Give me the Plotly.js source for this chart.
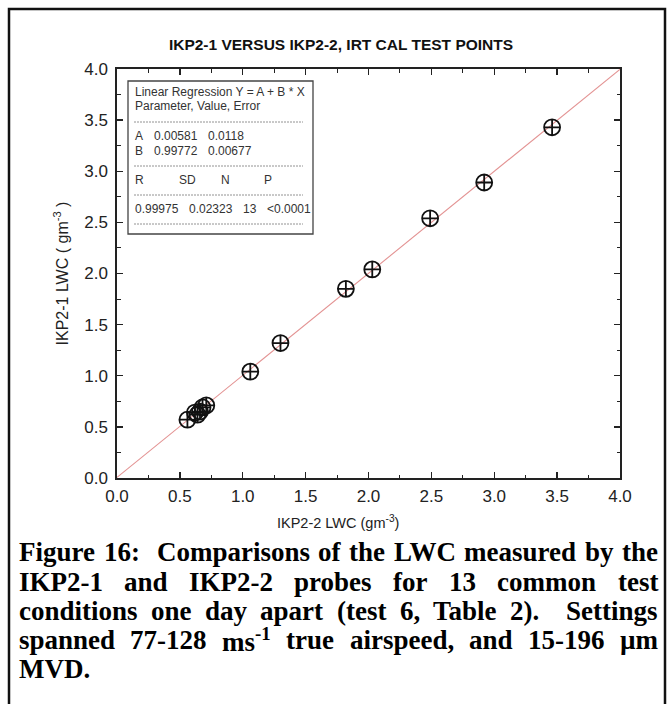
<!DOCTYPE html>
<html><head><meta charset="utf-8">
<script src="https://cdn.plot.ly/plotly-3.0.1.min.js"></script>
<style>html,body{margin:0;padding:0;background:#fff}</style>
</head><body><div id="chart" style="width:670px;height:704px"></div>
<script>
// ---- data ----
const ikp2_2 = [0.56, 0.62, 0.64, 0.66, 0.68, 0.71, 1.06, 1.30, 1.82, 2.03, 2.49, 2.92, 3.46];
const ikp2_1 = [0.57, 0.64, 0.62, 0.65, 0.69, 0.71, 1.04, 1.32, 1.85, 2.04, 2.54, 2.89, 3.43];
const fitA = 0.00581;
const fitB = 0.99772;
const fitX = [0, 4];
const tickVals = [0, 0.5, 1, 1.5, 2, 2.5, 3, 3.5, 4];
const tickText = ['0.0', '0.5', '1.0', '1.5', '2.0', '2.5', '3.0', '3.5', '4.0'];
const chartTitle = 'IKP2-1 VERSUS IKP2-2, IRT CAL TEST POINTS';
const xTitle = 'IKP2-2 LWC (gm<sup>-3</sup>)';
const yTitle = 'IKP2-1 LWC ( gm<sup>-3</sup> )';
const boxHeader = ['Linear Regression Y = A + B * X', 'Parameter, Value, Error'];
const paramRows = [['A', '0.00581', '0.0118'], ['B', '0.99772', '0.00677']];
const statHead = ['R', 'SD', 'N', 'P'];
const statVals = ['0.99975', '0.02323', '13', '<0.0001'];
const captionLines = [
  'Figure 16:  Comparisons of the LWC measured by the',
  'IKP2-1 and IKP2-2 probes for 13 common test',
  'conditions one day apart (test 6, Table 2).  Settings',
  'spanned 77-128 ms<sup>-1</sup> true airspeed, and 15-196 \u00b5m',
  'MVD.'
];

// ---- layout geometry (pixels) ----
const W = 670, H = 704;
const L = 117, R = 620, T = 69, B = 478;
const px = p => (p - L) / (R - L);
const py = p => (B - p) / (B - T);
const sans = 'Arial, "Liberation Sans", sans-serif';
const serif = '"Times New Roman", "Liberation Serif", serif';

const shapes = [];
const annotations = [];

// outer figure frame (left, top, right)
shapes.push({type: 'path', xref: 'paper', yref: 'paper',
  path: `M ${px(9)} ${py(712)} L ${px(9)} ${py(9)} L ${px(665)} ${py(9)} L ${px(665)} ${py(712)}`,
  line: {color: '#111', width: 2.5}});

// regression box
shapes.push({type: 'rect', xref: 'paper', yref: 'paper',
  x0: px(128), x1: px(313), y0: py(234), y1: py(81),
  line: {color: '#444', width: 1.3}, fillcolor: 'rgba(255,255,255,1)', layer: 'above'});
[122, 166, 195, 224].forEach(y => shapes.push({type: 'line', xref: 'paper', yref: 'paper',
  x0: px(134), x1: px(303), y0: py(y), y1: py(y),
  line: {color: '#777', width: 0.8, dash: '2px,1px'}}));

const boxFont = {family: sans, size: 12, color: '#333'};
function boxText(t, x, y) {
  annotations.push({text: t, xref: 'paper', yref: 'paper', x: px(x), y: py(y),
    xanchor: 'left', yanchor: 'middle', showarrow: false, font: boxFont});
}
boxText(boxHeader[0], 133, 92);
boxText(boxHeader[1], 133, 106);
const colP = [133, 152, 206];
paramRows.forEach((row, i) => row.forEach((c, j) => boxText(c, colP[j], 136 + 14.5 * i)));
const colH = [133, 177, 219, 262];
statHead.forEach((c, j) => boxText(c, colH[j], 180));
const colV = [133, 187, 241, 265];
statVals.forEach((c, j) => boxText(c, colV[j], 209));

// x axis title (placed as in the original)
annotations.push({text: xTitle, xref: 'paper', yref: 'paper', x: px(338), y: py(522),
  xanchor: 'center', yanchor: 'middle', showarrow: false, font: {family: sans, size: 14.5, color: '#222'}});

// caption, justified
const cvs = document.createElement('canvas').getContext('2d');
function measure(word, size) {
  let w = 0;
  word.split(/(<sup>.*?<\/sup>)/).forEach(p => {
    if (!p) return;
    if (p.startsWith('<sup>')) {
      cvs.font = `bold ${size * 0.7}px "Liberation Serif"`;
      w += cvs.measureText(p.replace(/<\/?sup>/g, '')).width;
    } else {
      cvs.font = `bold ${size}px "Liberation Serif"`;
      w += cvs.measureText(p).width;
    }
  });
  return w;
}
function parseLine(line) {
  const words = [], gaps = [];
  let g = 0;
  line.split(' ').forEach(t => { if (t === '') { g++; } else { if (words.length) gaps.push(g + 1); words.push(t); g = 0; } });
  return {words, gaps};
}
const capLeft = 17, capRight = 656;
// font size chosen so the first caption line sets with near-normal spacing
const first = parseLine(captionLines[0]);
cvs.font = 'bold 100px "Liberation Serif"';
const nat100 = first.words.reduce((a, w) => a + measure(w, 100), 0) +
  first.gaps.reduce((a, b) => a + b, 0) * cvs.measureText(' ').width;
const capSize = Math.min(27, Math.max(22, 100 * (capRight - capLeft - 6) / nat100));
const capY = [552, 582, 611, 640, 669];
captionLines.forEach((line, i) => {
  const {words, gaps} = parseLine(line);
  cvs.font = `bold ${capSize}px "Liberation Serif"`;
  const sp = cvs.measureText(' ').width;
  const widths = words.map(w => measure(w, capSize));
  const nSpaces = gaps.reduce((a, b) => a + b, 0);
  const natural = widths.reduce((a, b) => a + b, 0) + nSpaces * sp;
  const justify = i < captionLines.length - 1;
  const perSpace = justify ? sp + (capRight - capLeft - natural) / nSpaces : sp;
  let x = capLeft;
  words.forEach((w, k) => {
    annotations.push({text: w, xref: 'paper', yref: 'paper', x: px(x), y: py(capY[i]),
      xanchor: 'left', yanchor: 'middle', showarrow: false,
      font: {family: serif, size: capSize, color: '#000', weight: 'bold'}});
    x += widths[k] + (k < gaps.length ? gaps[k] * perSpace : 0);
  });
});

const axisCommon = {
  range: [0, 4], tickvals: tickVals, ticktext: tickText,
  ticks: 'inside', ticklen: 6, tickwidth: 1.3, tickcolor: '#222',
  showline: true, linewidth: 1.7, linecolor: '#222', mirror: 'ticks',
  showgrid: false, zeroline: false,
  tickfont: {family: sans, size: 17, color: '#222'},
  minor: {ticks: 'inside', ticklen: 3.5, tickwidth: 1.1, tickcolor: '#222', dtick: 0.25, tick0: 0, showgrid: false}
};

const traces = [
  {x: fitX, y: fitX.map(v => fitA + fitB * v), mode: 'lines', type: 'scatter',
   line: {color: '#e39393', width: 1.1}, hoverinfo: 'skip'},
  {x: ikp2_2, y: ikp2_1, mode: 'markers', type: 'scatter',
   marker: {symbol: 'circle-cross-open', size: 16, color: '#111', line: {width: 1.8, color: '#111'}}}
];

const layout = {
  width: W, height: H, showlegend: false,
  paper_bgcolor: '#fff', plot_bgcolor: '#fff',
  margin: {l: L, r: W - R, t: T, b: H - B},
  title: {text: chartTitle, xref: 'paper', x: px(341), xanchor: 'center',
          yref: 'container', y: 1 - 45 / H, yanchor: 'middle',
          font: {family: sans, size: 15.5, color: '#111', weight: 'bold'}},
  xaxis: Object.assign({}, axisCommon, {ticklabelstandoff: 2}),
  yaxis: Object.assign({}, axisCommon, {ticklabelstandoff: 4,
    title: {text: yTitle, standoff: 12, font: {family: sans, size: 16, color: '#222'}}}),
  shapes: shapes, annotations: annotations
};

Plotly.newPlot('chart', traces, layout, {staticPlot: true, displayModeBar: false});
</script>
</body></html>
